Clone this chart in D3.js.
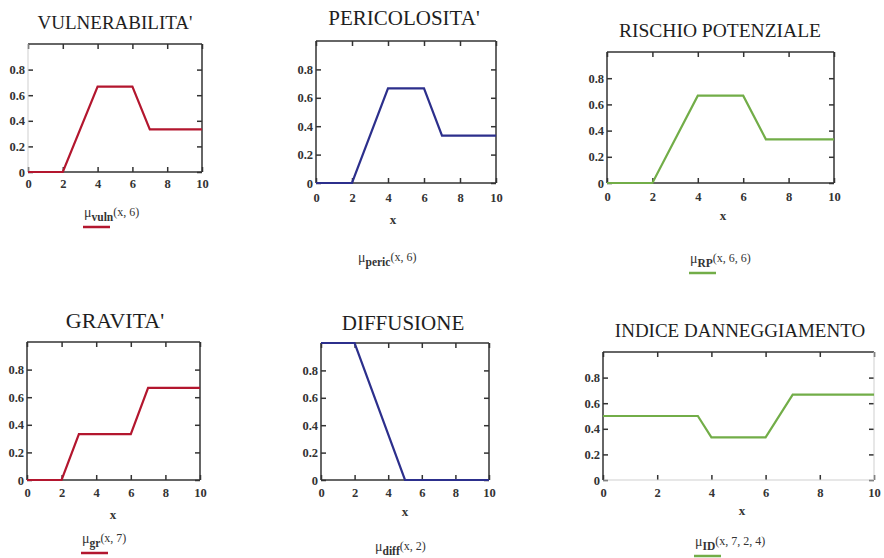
<!DOCTYPE html>
<html>
<head>
<meta charset="utf-8">
<script src="https://cdn.jsdelivr.net/npm/d3@7"></script>
<style>
  body { margin: 0; background: #fff; }
  text { font-family: "Liberation Serif", "DejaVu Serif", serif; }
</style>
</head>
<body>
<div id="myVis"></div>
<script>
// chart values
var xTicks = [0, 2, 4, 6, 8, 10]
var yTicks = [0, 0.2, 0.4, 0.6, 0.8]

var titles = ["VULNERABILITA'", "PERICOLOSITA'", "RISCHIO POTENZIALE", "GRAVITA'", "DIFFUSIONE", "INDICE DANNEGGIAMENTO"]
var muNames = ["vuln", "peric", "RP", "gr", "diff", "ID"]
var muArgs = ["(x, 6)", "(x, 6)", "(x, 6, 6)", "(x, 7)", "(x, 2)", "(x, 7, 2, 4)"]

var vulnX = [0, 2, 4, 6, 7, 10]
var vulnY = [0, 0, 0.667, 0.667, 0.333, 0.333]
var pericX = [0, 2, 4, 6, 7, 10]
var pericY = [0, 0, 0.667, 0.667, 0.333, 0.333]
var rpX = [0, 2, 4, 6, 7, 10]
var rpY = [0, 0, 0.667, 0.667, 0.333, 0.333]
var grX = [0, 2, 3, 6, 7, 10]
var grY = [0, 0, 0.333, 0.333, 0.667, 0.667]
var diffX = [0, 2, 5, 10]
var diffY = [1, 1, 0, 0]
var idX = [0, 3.5, 4, 6, 7, 10]
var idY = [0.5, 0.5, 0.333, 0.333, 0.667, 0.667]

var seriesX = [vulnX, pericX, rpX, grX, diffX, idX]
var seriesY = [vulnY, pericY, rpY, grY, diffY, idY]

var red = "#b3162e", blue = "#2c2f8c", green = "#72ad48"
var colors = [red, blue, green, red, blue, green]

// panel layout (box, title, labels, legend)
var panels = [
  {l: 28, r: 202, t: 44, b: 172, titleX: 115, titleY: 29, titleSize: 19, tickY: 188, xLab: null, legX: 84, legY: 217, line: true, faint: ["left"]},
  {l: 316, r: 496, t: 41, b: 183, titleX: 404, titleY: 25, titleSize: 21, tickY: 202, xLab: [393, 224], legX: 358, legY: 262, line: false, faint: []},
  {l: 607, r: 834, t: 52, b: 183, titleX: 720, titleY: 37, titleSize: 19.5, tickY: 201, xLab: [723, 220], legX: 690, legY: 263, line: true, faint: []},
  {l: 27, r: 200, t: 342, b: 480, titleX: 115, titleY: 328, titleSize: 22, tickY: 497, xLab: [113, 519], legX: 82, legY: 543, line: true, faint: []},
  {l: 321, r: 489, t: 343, b: 480, titleX: 403, titleY: 330, titleSize: 21, tickY: 497, xLab: [405, 516], legX: 375, legY: 551, line: false, faint: []},
  {l: 603, r: 874, t: 352, b: 480, titleX: 740, titleY: 337, titleSize: 19, tickY: 497, xLab: [742, 515], legX: 695, legY: 546, line: true, faint: ["right", "bottom"]}
]

const svg = d3.select("#myVis")
  .append("svg")
    .attr("width", 884)
    .attr("height", 558)

panels.forEach(function(p, i) {
  var xScale = d3.scaleLinear().domain([0, 10]).range([p.l, p.r])
  var yScale = d3.scaleLinear().domain([0, 1]).range([p.b, p.t])
  var g = svg.append("g")

  // title
  g.append("text")
    .attr("x", p.titleX).attr("y", p.titleY)
    .attr("text-anchor", "middle")
    .attr("font-size", p.titleSize)
    .attr("fill", "#1e1e1e")
    .text(titles[i])

  // inside ticks on all sides
  var tickStyle = function(sel) {
    sel.select(".domain").remove()
    sel.selectAll("line").attr("stroke", "#333").attr("stroke-width", 1.5)
    sel.selectAll("text").attr("fill", "#333").attr("font-size", 12.5)
      .style("font-family", "'Liberation Serif', serif").attr("font-weight", "bold")
  }
  g.append("g").attr("transform", "translate(0," + p.b + ")")
    .call(d3.axisBottom(xScale).tickValues(xTicks).tickSize(-5).tickPadding(p.tickY - p.b - 9).tickFormat(d3.format("")))
    .call(tickStyle)
  g.append("g").attr("transform", "translate(0," + p.t + ")")
    .call(d3.axisTop(xScale).tickValues(xTicks).tickSize(-5).tickFormat(""))
    .call(tickStyle)
  g.append("g").attr("transform", "translate(" + p.l + ",0)")
    .call(d3.axisLeft(yScale).tickValues(yTicks).tickSize(-5).tickPadding(3).tickFormat(d3.format("")))
    .call(tickStyle)
  g.append("g").attr("transform", "translate(" + p.r + ",0)")
    .call(d3.axisRight(yScale).tickValues(yTicks).tickSize(-5).tickFormat(""))
    .call(tickStyle)

  // box sides
  var sides = {
    top: [p.l, p.t, p.r, p.t], bottom: [p.l, p.b, p.r, p.b],
    left: [p.l, p.t, p.l, p.b], right: [p.r, p.t, p.r, p.b]
  }
  Object.keys(sides).forEach(function(k) {
    var s = sides[k]
    var faint = p.faint.indexOf(k) >= 0
    g.append("line")
      .attr("x1", s[0]).attr("y1", s[1]).attr("x2", s[2]).attr("y2", s[3])
      .attr("stroke", faint ? "#cfcfcf" : "#333")
      .attr("stroke-width", faint ? 1 : 1.5)
  })

  // series line
  var pts = seriesX[i].map(function(x, j) { return [x, seriesY[i][j]] })
  g.append("path")
    .datum(pts)
    .attr("fill", "none")
    .attr("stroke", colors[i])
    .attr("stroke-width", 2.2)
    .attr("d", d3.line().x(d => xScale(d[0])).y(d => yScale(d[1])))

  // x label
  if (p.xLab) {
    g.append("text")
      .attr("x", p.xLab[0]).attr("y", p.xLab[1])
      .attr("text-anchor", "middle")
      .attr("font-size", 13).attr("font-weight", "bold").attr("fill", "#333")
      .text("x")
  }

  // legend
  var leg = g.append("text")
    .attr("x", p.legX).attr("y", p.legY)
    .attr("font-size", 14).attr("fill", "#333")
  leg.append("tspan").text("\u03bc")
  leg.append("tspan").attr("dy", 4).attr("font-size", 11.5).attr("font-weight", "bold").text(muNames[i])
  leg.append("tspan").attr("dy", -5).attr("font-size", 12).text(muArgs[i])
  if (p.line) {
    g.append("line")
      .attr("x1", p.legX - 1).attr("x2", p.legX + 26)
      .attr("y1", p.legY + 10).attr("y2", p.legY + 10)
      .attr("stroke", colors[i]).attr("stroke-width", 2.5)
  }
})
</script>
</body>
</html>
